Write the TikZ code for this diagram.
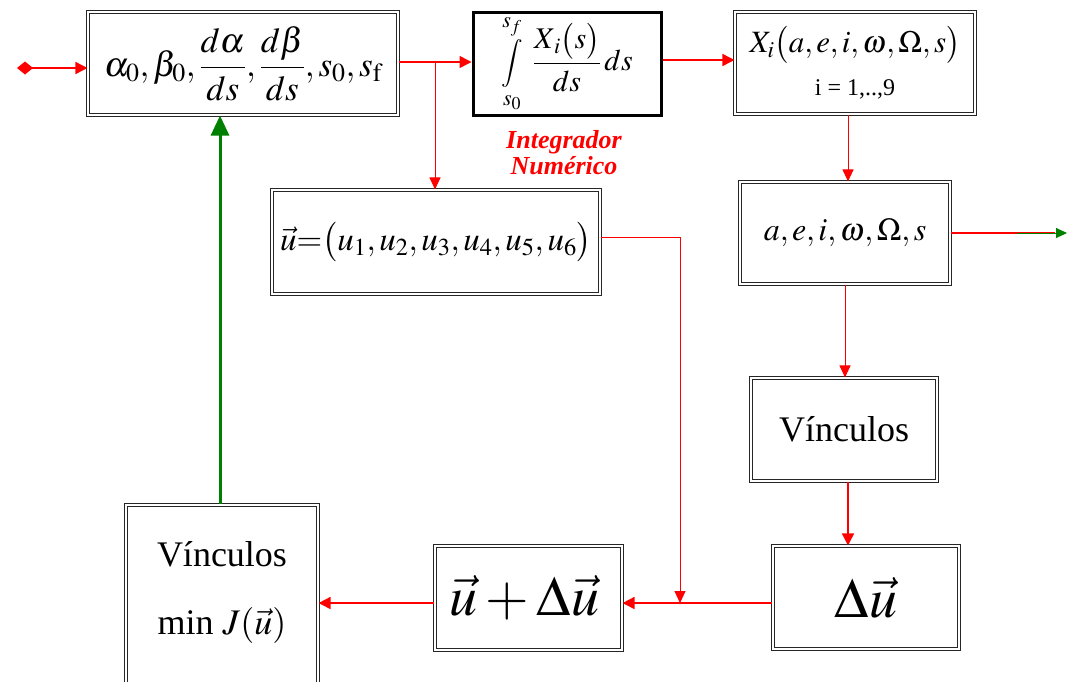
\documentclass[tikz,border=0pt]{standalone}
\usepackage{amsmath}
\usepackage{mathptmx}
\usepackage{fontspec}
\setmainfont{Liberation Serif}
\usetikzlibrary{arrows.meta}
\definecolor{dgreen}{RGB}{0,128,0}
\tikzset{
  box/.style={draw=black!85, double=white, double distance=1.3pt, line width=1.1pt, fill=white, inner sep=0pt, align=center},
  thickbox/.style={draw=black, line width=3pt, fill=white, inner sep=0pt, align=center},
  rarr/.style={draw=red, line width=1.6pt, -{Triangle[length=12pt,width=12pt]}},
  rarrthin/.style={draw=red, line width=1pt, -{Triangle[length=12pt,width=11pt]}},
  garr/.style={draw=dgreen, line width=3pt, -{Triangle[length=20pt,width=18pt]}},
}
\newcommand{\fs}[1]{\fontsize{#1}{#1}\selectfont}
\newcommand{\myint}{\mathop{\vcenter{\hbox{\fs{24}$\displaystyle\int$}}}}
\begin{document}
\begin{tikzpicture}[x=1pt,y=-1pt]
\useasboundingbox (0,0) rectangle (1067,681);
% boxes
\node[box, minimum width=310, minimum height=103] (A) at (243,63.5)
  {\fs{35}$\alpha_0,\beta_0,\dfrac{d\alpha}{ds},\dfrac{d\beta}{ds},s_0,s_{\mathrm f}$};
\node[thickbox, minimum width=188, minimum height=103] (B) at (567,64)
  {\fs{30}$\myint\limits_{s_0}^{s_f}\;\dfrac{X_{\,i}\bigl(s\bigr)}{ds}\,ds$};
\node[box, minimum width=240, minimum height=102] (C) at (855,63)
  {\fs{31}$X_i\bigl(a,e,i,\omega,\Omega,s\bigr)$\\[15pt]\fs{24}i = 1,..,9};
\node[box, minimum width=210, minimum height=102] (D) at (845,233)
  {\fs{32}$a,e,i,\omega,\Omega,s$};
\node[box, minimum width=328, minimum height=104] (E) at (436,242)
  {\fs{33}$\vec u{=}\bigl(u_1,u_2,u_3,u_4,u_5,u_6\bigr)$};
\node[box, minimum width=186, minimum height=103] (F) at (844,429.5)
  {\fs{36}Vínculos};
\node[box, minimum width=186, minimum height=103] (G) at (866,597.5)
  {\fs{56}$\Delta\vec u$};
\node[box, minimum width=187, minimum height=104] (H) at (528.5,598)
  {\fs{56}$\vec u+\Delta\vec u\hspace{8pt}$};
\node[box, minimum width=192, minimum height=190] (I) at (222,600) {};
\node[align=center, font=\fs{36}] (It) at (222,592) {Vínculos\\[32pt]min $J(\vec u)$};
% label
\node[text=red, font=\fs{26}\bfseries\itshape, align=center] (lab) at (564,153)
  {Integrador\\[0pt]Numérico};
% coordinates
\coordinate (in) at (17,68);
\coordinate (br) at (435,62);
\coordinate (bc) at (0,60);
\coordinate (cd) at (848,0);
\coordinate (ly) at (0,603);
\coordinate (ey) at (0,237);
\coordinate (j) at (680,603);
\coordinate (out) at (1067,233);
\coordinate (rs) at (1055,233);
\coordinate (gs) at (1017,233);
\coordinate (gx) at (220,0);
% connectors
\draw[draw=red, line width=1.6pt, {Diamond[length=16pt,width=13pt]}-{Triangle[length=12pt,width=12pt]}] (in) -- (A.west |- in);
\draw[rarr] (A.east |- br) -- (B.west |- br);
\draw[rarrthin] (br) -- (br |- E.north);
\draw[rarr] (B.east |- bc) -- (C.west |- bc);
\draw[rarrthin] (C.south -| cd) -- (cd |- D.north);
\draw[draw=red, line width=2.4pt] (D.east |- out) -- (rs);
\draw[draw=dgreen, line width=1pt, -{Triangle[length=11pt,width=10pt]}] (gs) -- (out);
\draw[rarrthin] (D.south) -- (D.south |- F.north);
\draw[rarr] (F.south -| cd) -- (cd |- G.north);
\draw[rarr] (G.west |- ly) -- (H.east |- ly);
\draw[rarrthin] (E.east |- ey) -- (j |- ey) -- (j);
\draw[rarr] (H.west |- ly) -- (I.east |- ly);
\draw[garr] (I.north -| gx) -- (gx |- A.south);
\end{tikzpicture}
\end{document}
